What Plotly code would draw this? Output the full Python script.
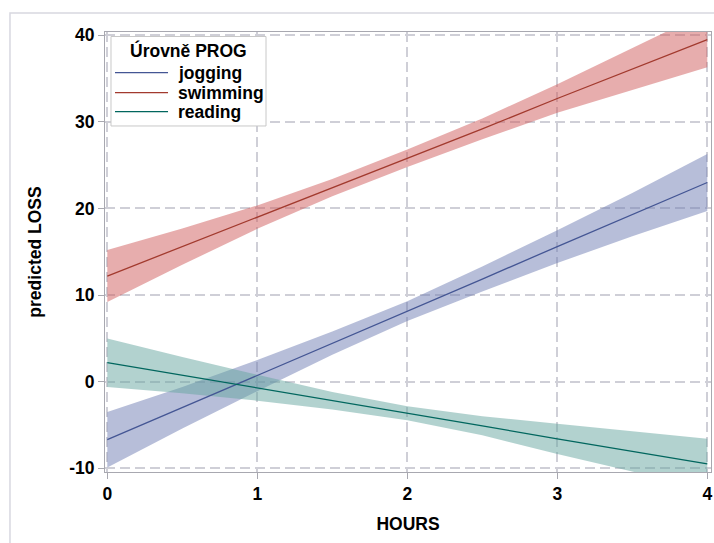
import plotly.graph_objects as go

hours = [0, 0.5, 1, 1.5, 2, 2.5, 3, 3.5, 4]

jog_fit = [-6.7, -3.0, 0.7, 4.45, 8.15, 11.85, 15.6, 19.3, 23.0]
jog_up = [-3.5, -0.6, 2.5, 5.8, 9.3, 13.3, 17.5, 21.8, 26.3]
jog_lo = [-9.9, -5.4, -1.1, 3.1, 7.0, 10.4, 13.7, 16.8, 19.7]

swim_fit = [12.2, 15.6, 19.0, 22.4, 25.8, 29.2, 32.7, 36.1, 39.5]
swim_up = [15.2, 17.7, 20.35, 23.4, 26.8, 30.4, 34.35, 38.5, 42.7]
swim_lo = [9.2, 13.5, 17.65, 21.4, 24.8, 28.0, 31.05, 33.7, 36.3]

read_fit = [2.2, 0.75, -0.7, -2.2, -3.65, -5.1, -6.6, -8.05, -9.5]
read_up = [5.0, 2.85, 0.8, -1.2, -2.85, -4.0, -4.85, -5.75, -6.6]
read_lo = [-0.6, -1.35, -2.2, -3.2, -4.45, -6.2, -8.35, -10.35, -12.4]

groups = ["jogging", "swimming", "reading"]
legend_title = "Úrovně PROG"
x_ticks = [0, 1, 2, 3, 4]
y_ticks = [-10, 0, 10, 20, 30, 40]
y_ticktext = ["-10", "0", "10", "20", "30", "40"]

series = [
    (groups[0], jog_fit, jog_up, jog_lo, "#445694", "rgba(111,126,179,0.5)"),
    (groups[1], swim_fit, swim_up, swim_lo, "#A23A2E", "rgba(208,91,91,0.5)"),
    (groups[2], read_fit, read_up, read_lo, "#01665E", "rgba(102,165,160,0.5)"),
]

font = "Liberation Sans, Arial, sans-serif"
FS = 17.5

fig = go.Figure()
for name, fit, up, lo, lc, fc in series:
    fig.add_trace(go.Scatter(
        x=hours + hours[::-1], y=up + lo[::-1], fill="toself", fillcolor=fc,
        line=dict(width=0), mode="lines", showlegend=False, hoverinfo="skip"))
for name, fit, up, lo, lc, fc in series:
    fig.add_trace(go.Scatter(
        x=hours, y=fit, mode="lines", name=name, showlegend=False,
        line=dict(color=lc, width=1.3)))

bold = dict(family=font, size=FS, color="#000000", weight="bold")

# manual legend (paper coordinates of the plot area)
shapes = [
    dict(type="rect", xref="paper", yref="paper",
         x0=-0.1568, x1=1.2, y0=-0.3, y1=1.0432,
         line=dict(color="#D8D8E0", width=1.5), layer="below"),
    dict(type="rect", xref="paper", yref="paper",
         x0=0.0099, x1=0.2657, y0=0.7864, y1=0.9898,
         fillcolor="white", line=dict(color="#C8C8C8", width=1), layer="above"),
]
annotations = [
    dict(xref="paper", yref="paper", x=0.137, y=0.959, text=legend_title,
         showarrow=False, xanchor="center", yanchor="middle", font=bold),
]
leg_y = [0.9075, 0.862, 0.8189]
for (name, fit, up, lo, lc, fc), yy in zip(series, leg_y):
    shapes.append(dict(type="line", xref="paper", yref="paper",
                       x0=0.0165, x1=0.1040, y0=yy, y1=yy,
                       line=dict(color=lc, width=1.3), layer="above"))
    annotations.append(dict(xref="paper", yref="paper", x=0.1172, y=yy, text=name,
                            showarrow=False, xanchor="left", yanchor="middle", font=bold))

axis_common = dict(
    showgrid=True, gridcolor="#CFCFD7", griddash="10px,5px", gridwidth=1.5,
    zeroline=False, showline=True, linecolor="#A8A8B0", linewidth=1,
    mirror=True, ticks="outside", ticklen=6, tickcolor="#A8A8B0",
    tickfont=bold, automargin=False,
)

fig.update_layout(
    width=714, height=543,
    margin=dict(l=105, r=3, t=32, b=71),
    paper_bgcolor="white", plot_bgcolor="white",
    font=dict(family=font, size=FS, color="#000000"),
    xaxis=dict(range=[-0.0153, 4.0247], tickvals=x_ticks,
               title=dict(text="HOURS", font=bold, standoff=14), **axis_common),
    yaxis=dict(range=[-10.43, 40.38], tickvals=y_ticks, ticktext=y_ticktext,
               title=dict(text="predicted LOSS", font=bold, standoff=23), **axis_common),
    shapes=shapes,
    annotations=annotations,
    showlegend=False,
)

fig.write_html("out.html", config={"displayModeBar": False},
               post_script="document.body.style.margin='0';document.body.style.overflow='hidden';")
